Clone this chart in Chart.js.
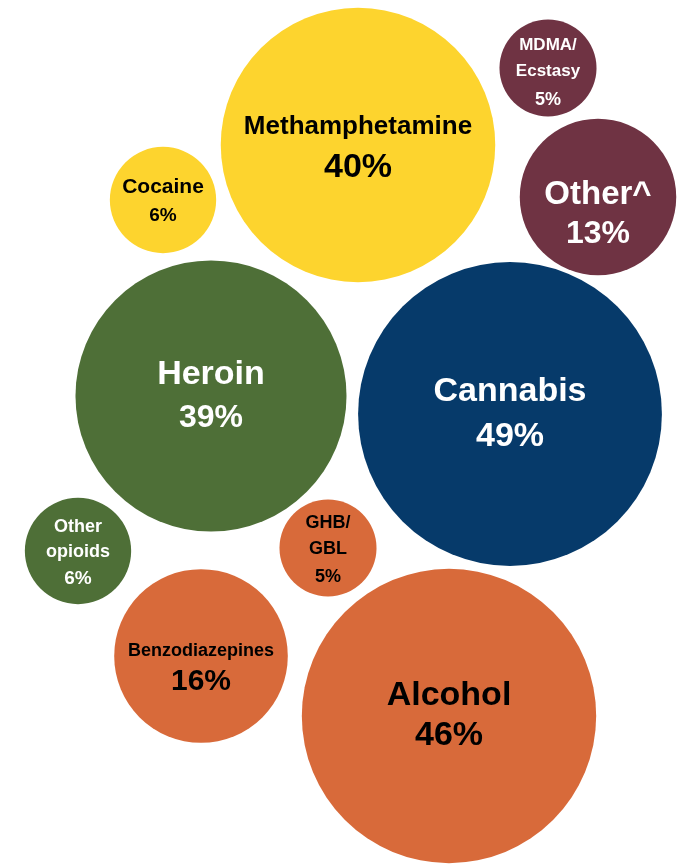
<!DOCTYPE html>
<html>
<head>
<meta charset="utf-8">
<script src="https://cdn.jsdelivr.net/npm/chart.js@4"></script>
<style>
  html, body { margin: 0; padding: 0; background: #fff; }
  #wrap { width: 696px; height: 867px; }
</style>
</head>
<body>
<div id="wrap"><canvas id="drug-bubbles" width="696" height="867"></canvas></div>
<script>
// data
const categories = ['Methamphetamine', 'MDMA/Ecstasy', 'Cocaine', 'Other^', 'Heroin',
  'Cannabis', 'Other opioids', 'GHB/GBL', 'Benzodiazepines', 'Alcohol'];
const percentages = [40, 5, 6, 13, 39, 49, 6, 5, 16, 46];
const groups = ['stimulant', 'stimulant-other', 'stimulant', 'stimulant-other', 'opioid',
  'cannabis', 'opioid', 'depressant', 'depressant', 'depressant'];
// packed layout coordinates (chart units)
const layoutX = [358, 548, 163, 598, 211, 510, 78, 328, 201, 449];
const layoutY = [145, 68, 200, 197, 396, 414, 551, 548, 656, 716];

// styles
const groupColors = {
  'stimulant': '#FDD42E',
  'stimulant-other': '#6F3343',
  'opioid': '#4E6F37',
  'cannabis': '#063A6A',
  'depressant': '#D86A3A',
};
const textColors = {
  'stimulant': '#000',
  'stimulant-other': '#fff',
  'opioid': '#fff',
  'cannabis': '#fff',
  'depressant': '#000',
};
// size = name font, pct = percentage font, dy = vertical nudge, gap = extra space before pct
const labelStyle = {
  'Methamphetamine': { lines: ['Methamphetamine'], size: 26, pct: 34, dy: 5, gap: 1 },
  'MDMA/Ecstasy': { lines: ['MDMA/', 'Ecstasy'], size: 17, pct: 18, dy: 5, gap: 2, lead: 2 },
  'Cocaine': { lines: ['Cocaine'], size: 21, pct: 19, dy: 1, gap: 0 },
  'Other^': { lines: ['Other^'], size: 33, pct: 32, dy: 17, gap: -4 },
  'Heroin': { lines: ['Heroin'], size: 34, pct: 32, dy: 0, gap: 0 },
  'Cannabis': { lines: ['Cannabis'], size: 34, pct: 34, dy: 0, gap: 0 },
  'Other opioids': { lines: ['Other', 'opioids'], size: 18, pct: 19, dy: 2, gap: 0 },
  'GHB/GBL': { lines: ['GHB/', 'GBL'], size: 18, pct: 18, dy: 2, gap: 2 },
  'Benzodiazepines': { lines: ['Benzodiazepines'], size: 18, pct: 30, dy: 14, gap: -3 },
  'Alcohol': { lines: ['Alcohol'], size: 34, pct: 34, dy: 0, gap: -5 },
};
const FONT = '"Liberation Sans", Arial, Helvetica, sans-serif';

const bubbleLabels = {
  id: 'bubbleLabels',
  afterDatasetsDraw(chart) {
    const ctx = chart.ctx;
    const meta = chart.getDatasetMeta(0);
    meta.data.forEach((el, i) => {
      const st = labelStyle[categories[i]];
      const rows = st.lines.map((t) => ({ text: t, size: st.size }));
      rows.push({ text: percentages[i] + '%', size: st.pct });
      const heights = rows.map((r) => r.size * 1.2 + 4 + (st.lead || 0));
      heights[heights.length - 1] += st.gap;
      const total = heights.reduce((a, b) => a + b, 0);
      let y = el.y + st.dy - total / 2;
      ctx.save();
      ctx.fillStyle = textColors[groups[i]];
      ctx.textAlign = 'center';
      ctx.textBaseline = 'middle';
      rows.forEach((r, k) => {
        ctx.font = 'bold ' + r.size + 'px ' + FONT;
        const isPct = k === rows.length - 1;
        const mid = isPct ? y + (heights[k] + st.gap) / 2 : y + heights[k] / 2;
        ctx.fillText(r.text, el.x, mid);
        y += heights[k];
      });
      ctx.restore();
    });
  },
};

const points = categories.map((c, i) => ({
  x: layoutX[i],
  y: layoutY[i],
  r: 21.7 * Math.sqrt(percentages[i]),
}));

const ctx = document.getElementById('drug-bubbles').getContext('2d');
new Chart(ctx, {
  type: 'bubble',
  data: {
    datasets: [{
      label: 'Drug use',
      data: points,
      backgroundColor: groups.map((g) => groupColors[g]),
      borderWidth: 0,
      hoverBorderWidth: 0,
      clip: false,
    }],
  },
  options: {
    responsive: false,
    animation: false,
    layout: { padding: 0, autoPadding: false },
    scales: {
      x: { type: 'linear', min: 0, max: 696, display: false },
      y: { type: 'linear', min: 0, max: 867, reverse: true, display: false },
    },
    plugins: {
      legend: { display: false },
      tooltip: { enabled: false },
    },
  },
  plugins: [bubbleLabels],
});
</script>
</body>
</html>
